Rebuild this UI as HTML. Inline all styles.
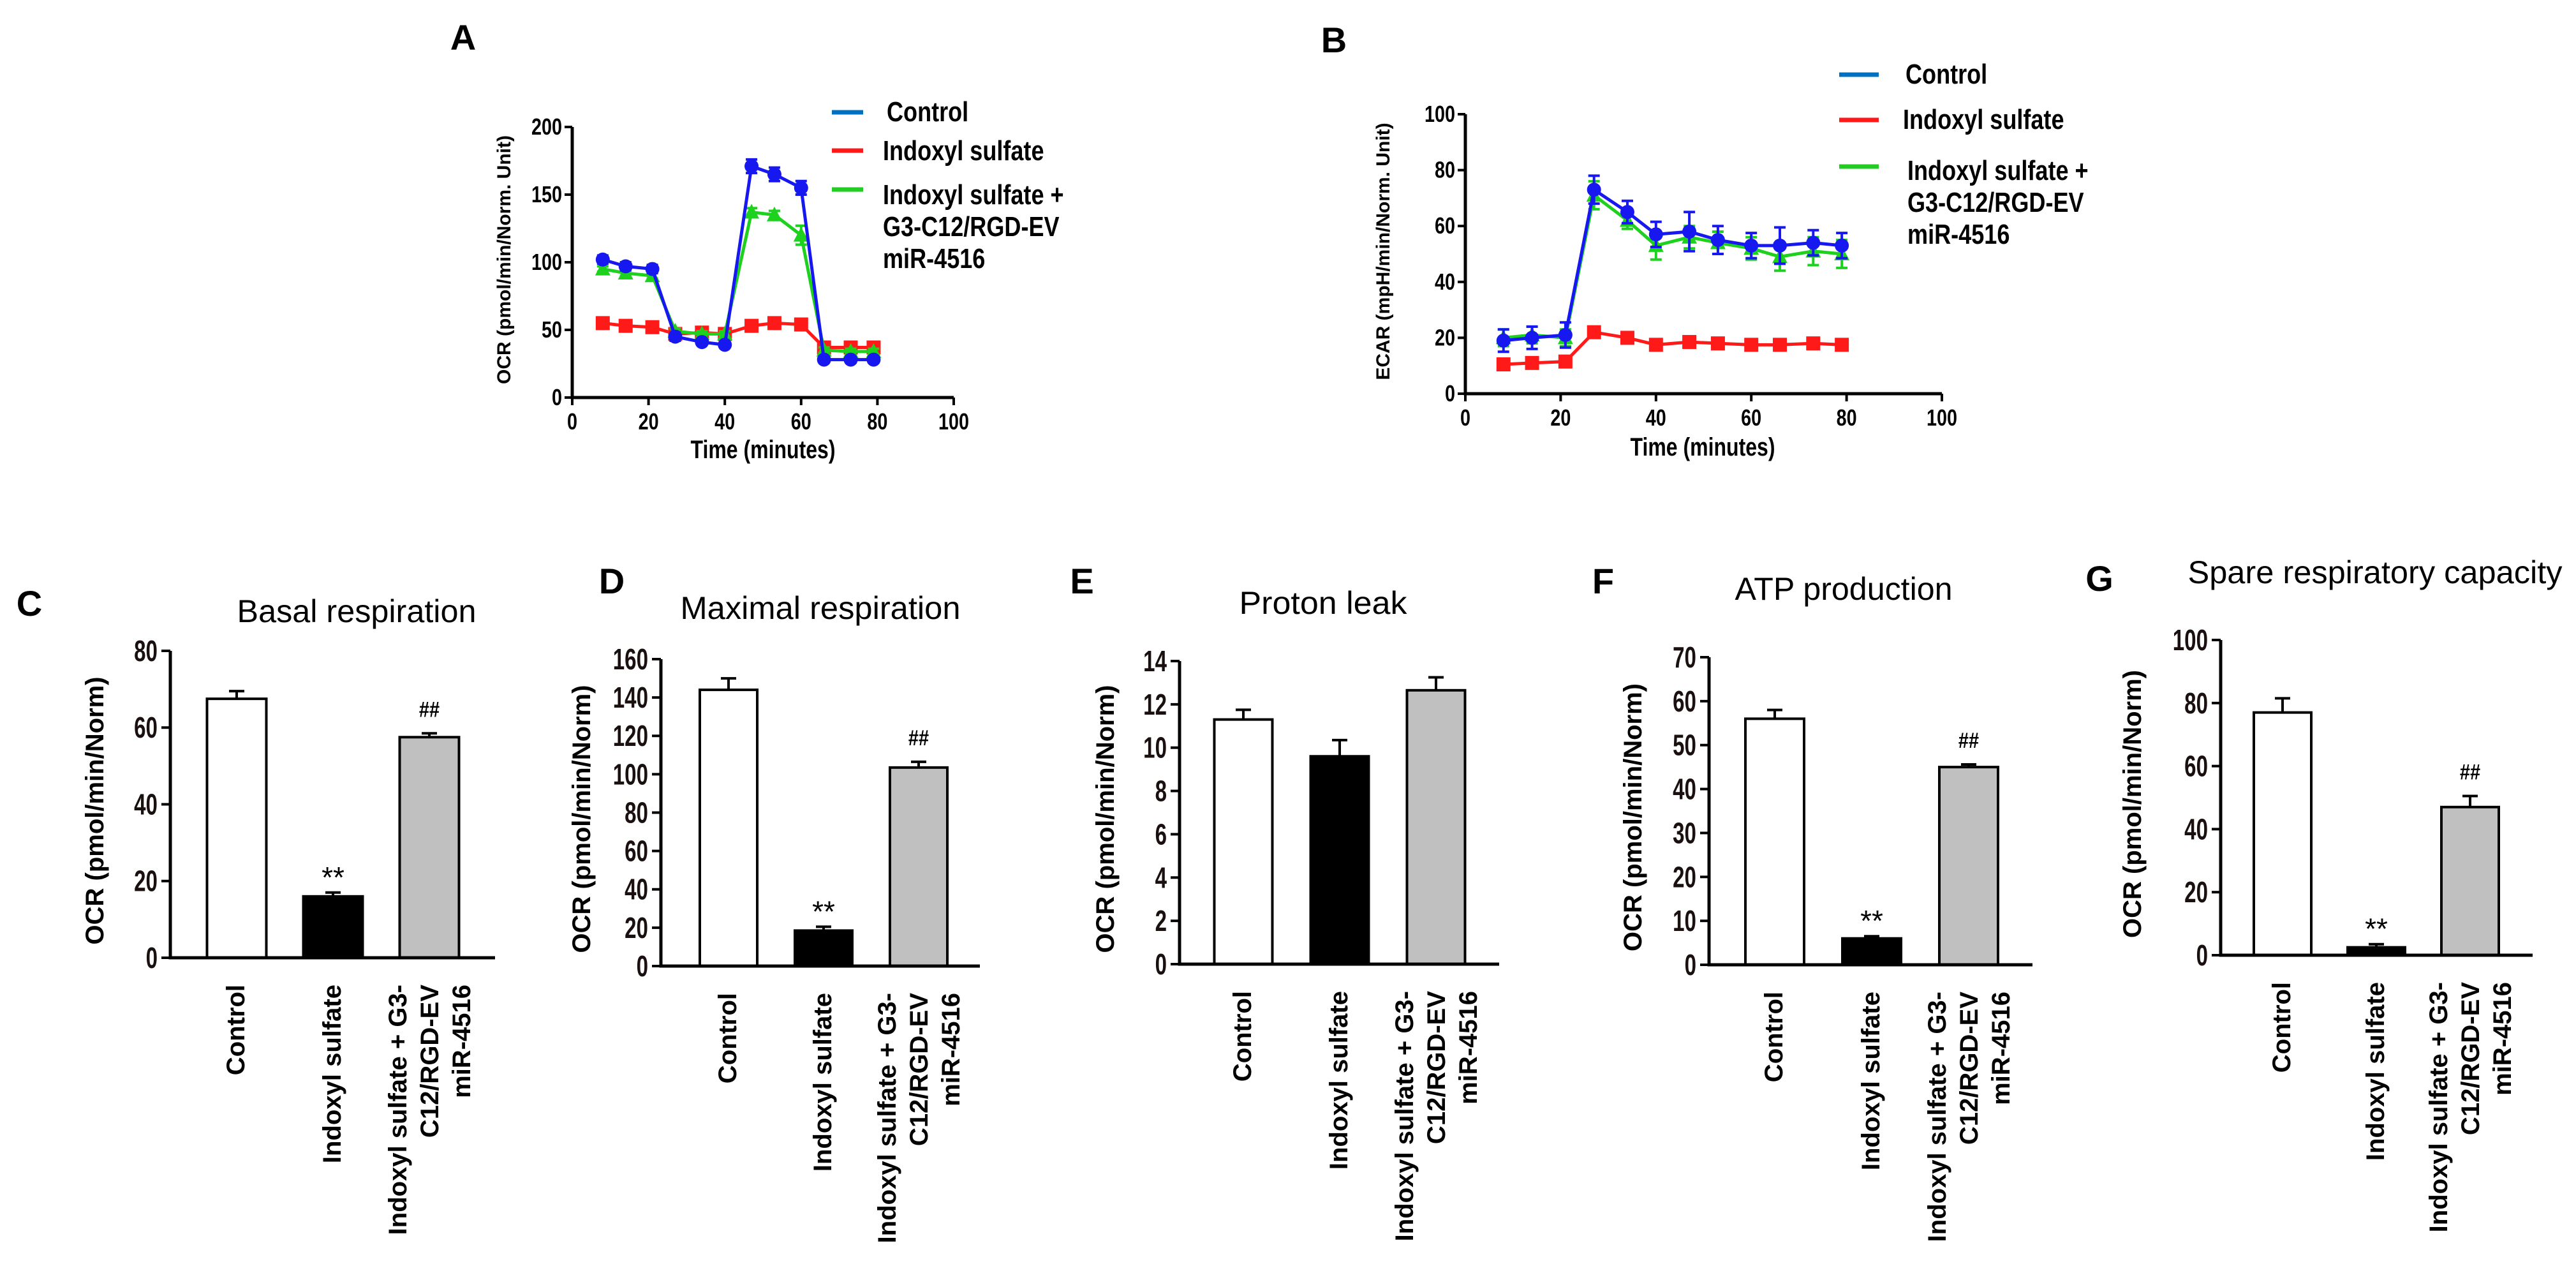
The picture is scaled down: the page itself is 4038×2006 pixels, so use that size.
<!DOCTYPE html>
<html><head><meta charset="utf-8">
<style>
html,body{margin:0;padding:0;background:#fff;}
svg{display:block;}
text{font-family:"Liberation Sans",sans-serif;}
</style></head>
<body>
<svg id="fig" width="4038" height="2006" viewBox="0 0 4038 2006" xmlns="http://www.w3.org/2000/svg">
<rect width="4038" height="2006" fill="#fff"/>
</svg>
<script>
// ---------- Data: panel A (OCR time course) ----------
const timeA = [8,14,21,27,34,40,47,53,60,66,73,79];
const ctrlA = [102,97,95,45,41,39,171,165,155,28,28,28];
const ctrlAErr = [3,3,3,3,2,2,5,5,5,2,2,2];
const isA = [55,53,52,47,48,47,53,55,54,37,37,37];
const isAErr = [2,2,2,2,2,2,2,2,2,2,2,2];
const combA = [95,92,90,49,47,47,137,135,120,35,34,34];
const combAErr = [2,2,2,2,2,2,3,3,7,2,2,2];
const xTicksA = [0,20,40,60,80,100];
const yTicksA = [0,50,100,150,200];
// ---------- Data: panel B (ECAR time course) ----------
const timeB = [8,14,21,27,34,40,47,53,60,66,73,79];
const ctrlB = [19,20,21,73,65,57,58,55,53,53,54,53];
const ctrlBErr = [4,4,4.5,5,4,4.5,7,5,4.5,6.5,4.5,4.5];
const isB = [10.5,11,11.5,22,20,17.5,18.5,18,17.5,17.5,18,17.5];
const isBErr = [1,1,1,1,1,1,1,1,1,1,1,1];
const combB = [20,21,20,71,62,53,56,54,52,49,51,50];
const combBErr = [3,3,3,5,3,5,4,4,4,5,5,5];
const xTicksB = [0,20,40,60,80,100];
const yTicksB = [0,20,40,60,80,100];
// ---------- Data: bar panels ----------
const groups = ["Control","Indoxyl sulfate","Indoxyl sulfate + G3-|C12/RGD-EV|miR-4516"];
const basalVals = [67.5,16,57.5];   const basalErr = [2,1,1];
const maxVals = [144,18.5,103.5];   const maxErr = [6,2,3];
const leakVals = [11.3,9.6,12.65];  const leakErr = [0.45,0.75,0.6];
const atpVals = [56,6,45];          const atpErr = [2,0.5,0.6];
const spareVals = [77,2.5,47];      const spareErr = [4.5,1,3.5];
const basalTicks = [0,20,40,60,80];
const maxTicks = [0,20,40,60,80,100,120,140,160];
const leakTicks = [0,2,4,6,8,10,12,14];
const atpTicks = [0,10,20,30,40,50,60,70];
const spareTicks = [0,20,40,60,80,100];

const NS = "http://www.w3.org/2000/svg";
const svg = document.getElementById('fig');
function mk(tag, attrs, parent){
  const e = document.createElementNS(NS, tag);
  for (const k in attrs) e.setAttribute(k, attrs[k]);
  (parent||svg).appendChild(e);
  return e;
}
function txt(str, x, y, opts, parent){
  const t = mk('text', {x:x, y:y}, parent);
  t.textContent = str;
  t.setAttribute('font-size', opts.size);
  t.setAttribute('font-weight', opts.weight||'normal');
  t.setAttribute('text-anchor', opts.anchor||'start');
  t.setAttribute('fill', opts.fill||'#000');
  if (opts.sx) t.setAttribute('transform', `translate(${x},${y}) scale(${opts.sx},1) translate(${-x},${-y})`);
  if (opts.rot) t.setAttribute('transform', `rotate(-90 ${x} ${y})`);
  if (opts.len) { t.setAttribute('textLength', opts.len); t.setAttribute('lengthAdjust','spacingAndGlyphs'); }
  return t;
}

// panel letters
[["A",726,78],["B",2091,82],["C",46,965],["D",959,930],["E",1696,930],["F",2513,930],["G",3291,926]].forEach(p=>{
  const t = txt(p[0], p[1], p[2], {size:56, weight:'bold', anchor:'middle'});
  
  
});

// ---------- line charts ----------
function lineChart(cfg){
  const g = mk('g', {});
  
  
  const X = v => cfg.x0 + (v - cfg.xMin)/(cfg.xMax-cfg.xMin)*(cfg.x1-cfg.x0);
  const Y = v => cfg.y0 - (v - cfg.yMin)/(cfg.yMax-cfg.yMin)*(cfg.y0-cfg.y1);
  // axes
  const ax = mk('path', {d:`M${cfg.x0},${cfg.y1} V${cfg.y0} H${cfg.x1}`, fill:'none', stroke:'#000', 'stroke-width':5}, g);
  
  
  cfg.yTicks.forEach(v=>{
    mk('line',{x1:cfg.x0-12,x2:cfg.x0,y1:Y(v),y2:Y(v),stroke:'#000','stroke-width':4},g);
    const t = txt(String(v), cfg.x0-16, Y(v)+12, {size:36, weight:'bold', anchor:'end', sx:0.8}, g);
    
    
  });
  cfg.xTicks.forEach(v=>{
    mk('line',{x1:X(v),x2:X(v),y1:cfg.y0,y2:cfg.y0+12,stroke:'#000','stroke-width':4},g);
    const t = txt(String(v), X(v), cfg.y0+50, {size:36, weight:'bold', anchor:'middle', sx:0.8}, g);
    
    
  });
  const yt = txt(cfg.yTitle, cfg.yTitleX, (cfg.y0+cfg.y1)/2 - 4, {size:30, weight:'bold', anchor:'middle', rot:true}, g);
  
  
  const xt = txt('Time (minutes)', cfg.xTitleX, cfg.xTitleY, {size:40, weight:'bold', anchor:'middle', sx:0.8}, g);
  
  
  cfg.series.forEach(s=>{
    const sg = mk('g', {}, g);
    
    
    const pts = s.x.map((xv,i)=>X(xv)+','+Y(s.y[i])).join(' ');
    mk('polyline',{points:pts, fill:'none', stroke:s.color, 'stroke-width':5}, sg);
    s.x.forEach((xv,i)=>{
      const cx = X(xv), cy = Y(s.y[i]);
      const e = s.err[i];
      const eb = mk('path',{d:`M${cx},${Y(s.y[i]+e)} V${Y(s.y[i]-e)} M${cx-9},${Y(s.y[i]+e)} h18 M${cx-9},${Y(s.y[i]-e)} h18`, stroke:s.color,'stroke-width':4,fill:'none'}, sg);
      
      
      let m;
      if (s.marker==='circle') m = mk('circle',{cx:cx,cy:cy,r:11,fill:s.color},sg);
      else if (s.marker==='square') m = mk('rect',{x:cx-11,y:cy-11,width:22,height:22,fill:s.color},sg);
      else m = mk('polygon',{points:`${cx},${cy-13} ${cx-12},${cy+10} ${cx+12},${cy+10}`,fill:s.color},sg);
      
      
    });
  });
  // legend
  const lg = mk('g', {}, g);
  
  
  cfg.legend.forEach(L=>{
    const ln = mk('line',{x1:cfg.legX0,x2:cfg.legX1,y1:L.ly,y2:L.ly,stroke:L.color,'stroke-width':7},lg);
    
    
    L.lines.forEach((s,i)=>{
      const t = txt(s, L.tx, L.ty + i*L.lh, {size:44, weight:'bold', sx:0.82}, lg);
      
      
    });
  });
}

lineChart({name:'chart-a-ocr', x0:897, x1:1495, xMin:0, xMax:100, y0:623, y1:199, yMin:0, yMax:200,
  xTicks:xTicksA, yTicks:yTicksA, yTitle:'OCR (pmol/min/Norm. Unit)', yTitleX:800, xTitleX:1196, xTitleY:718,
  series:[
    {key:'indoxyl', x:timeA, y:isA, err:isAErr, color:'#ff1a1a', marker:'square'},
    {key:'combo', x:timeA, y:combA, err:combAErr, color:'#1fd11f', marker:'triangle'},
    {key:'control', x:timeA, y:ctrlA, err:ctrlAErr, color:'#1717f0', marker:'circle'}],
  legX0:1304, legX1:1353,
  legend:[
    {color:'#0070c0', ly:176, tx:1390, ty:190, lh:0, lines:['Control']},
    {color:'#ff1a1a', ly:236, tx:1384, ty:251, lh:0, lines:['Indoxyl sulfate']},
    {color:'#22cc22', ly:297, tx:1384, ty:320, lh:50, lines:['Indoxyl sulfate +','G3-C12/RGD-EV','miR-4516']}]
});

lineChart({name:'chart-b-ecar', x0:2297, x1:3044, xMin:0, xMax:100, y0:617, y1:179, yMin:0, yMax:100,
  xTicks:xTicksB, yTicks:yTicksB, yTitle:'ECAR (mpH/min/Norm. Unit)', yTitleX:2178, xTitleX:2669, xTitleY:714,
  series:[
    {key:'indoxyl', x:timeB, y:isB, err:isBErr, color:'#ff1a1a', marker:'square'},
    {key:'combo', x:timeB, y:combB, err:combBErr, color:'#1fd11f', marker:'triangle'},
    {key:'control', x:timeB, y:ctrlB, err:ctrlBErr, color:'#1717f0', marker:'circle'}],
  legX0:2883, legX1:2945,
  legend:[
    {color:'#0070c0', ly:117, tx:2987, ty:131, lh:0, lines:['Control']},
    {color:'#ff1a1a', ly:188, tx:2983, ty:202, lh:0, lines:['Indoxyl sulfate']},
    {color:'#22cc22', ly:261, tx:2990, ty:282, lh:50, lines:['Indoxyl sulfate +','G3-C12/RGD-EV','miR-4516']}]
});

// ---------- bar charts ----------
const fills = ['#ffffff','#000000','#c0c0c0'];
function barChart(cfg){
  const g = mk('g', {});
  
  
  const Y = v => cfg.y0 - v/cfg.yMax*(cfg.y0-cfg.y1);
  const CX = i => cfg.c0 + i*cfg.step;
  const title = txt(cfg.title, cfg.titleX, cfg.titleY, {size:50, anchor:'middle', len:cfg.titleLen}, g);
  
  
  const yt = txt('OCR (pmol/min/Norm)', cfg.yTitleX, (cfg.y0+cfg.y1)/2+10, {size:40, weight:'bold', anchor:'middle', rot:true}, g);
  
  
  cfg.ticks.forEach(v=>{
    mk('line',{x1:cfg.x0-14,x2:cfg.x0,y1:Y(v),y2:Y(v),stroke:'#000','stroke-width':4},g);
    const t = txt(String(v), cfg.x0-20, Y(v)+16, {size:46, weight:'bold', anchor:'end', sx:0.72, fill:'#1a1010'}, g);
    
    
  });
  cfg.vals.forEach((v,i)=>{
    const cx = CX(i), w = cfg.bw;
    const e = cfg.err[i];
    const eb = mk('path',{d:`M${cx},${Y(v)} V${Y(v+e)} M${cx-12},${Y(v+e)} h24`, stroke:'#000','stroke-width':4, fill:'none'}, g);
    
    
    const b = mk('rect',{x:cx-w/2,y:Y(v),width:w,height:cfg.y0-Y(v),fill:fills[i],stroke:'#000','stroke-width':4},g);
    
    
    const lines = groups[i].split('|');
    const offs = lines.length===1 ? [12] : [-36,14,64];
    lines.forEach((s,k)=>{
      const t = txt(s, cx+offs[k], cfg.y0+42, {size:40, weight:'bold', anchor:'end', rot:true}, g);
      
      
    });
  });
  const ax = mk('path',{d:`M${cfg.x0},${cfg.y1} V${cfg.y0} H${cfg.xEnd}`, fill:'none', stroke:'#000','stroke-width':5},g);
  
  
  if (cfg.sig){
    const a = txt('**', CX(1), Y(cfg.vals[1]+cfg.err[1]) - 8, {size:46, anchor:'middle'}, g);
    
    
    const h = txt('##', CX(2), Y(cfg.vals[2]+cfg.err[2]) - 26, {size:34, weight:'bold', anchor:'middle', sx:0.85}, g);
    
    
  }
}

barChart({name:'chart-c-basal', title:'Basal respiration', titleX:559, titleY:975, titleLen:375,
  x0:267, xEnd:776, y0:1501, y1:1020, yMax:80, ticks:basalTicks, vals:basalVals, err:basalErr,
  c0:371, step:151, bw:93, yTitleX:162, sig:true});
barChart({name:'chart-d-maximal', title:'Maximal respiration', titleX:1286, titleY:970, titleLen:439,
  x0:1036, xEnd:1536, y0:1514, y1:1033, yMax:160, ticks:maxTicks, vals:maxVals, err:maxErr,
  c0:1142, step:149, bw:90, yTitleX:925, sig:true});
barChart({name:'chart-e-proton-leak', title:'Proton leak', titleX:2074, titleY:962, titleLen:263,
  x0:1849, xEnd:2350, y0:1511, y1:1036, yMax:14, ticks:leakTicks, vals:leakVals, err:leakErr,
  c0:1949, step:151, bw:91, yTitleX:1746, sig:false});
barChart({name:'chart-f-atp', title:'ATP production', titleX:2890, titleY:940, titleLen:341,
  x0:2679, xEnd:3186, y0:1512, y1:1030, yMax:70, ticks:atpTicks, vals:atpVals, err:atpErr,
  c0:2782, step:152, bw:92, yTitleX:2573, sig:true});
barChart({name:'chart-g-spare', title:'Spare respiratory capacity', titleX:3723, titleY:914, titleLen:587,
  x0:3481, xEnd:3970, y0:1497, y1:1003, yMax:100, ticks:spareTicks, vals:spareVals, err:spareErr,
  c0:3578, step:147, bw:90, yTitleX:3356, sig:true});
</script>
</body></html>
